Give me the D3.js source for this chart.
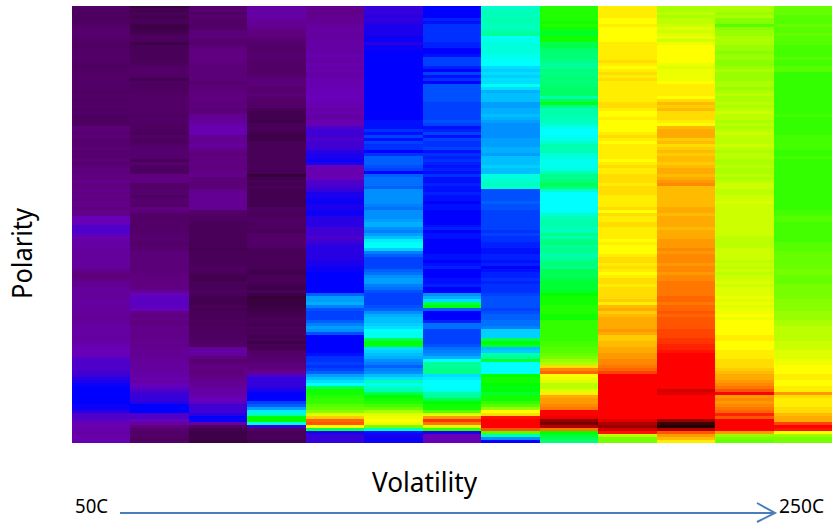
<!DOCTYPE html>
<html>
<head>
<meta charset="utf-8">
<script src="https://cdn.jsdelivr.net/npm/d3@7"></script>
<style>
  html, body { margin: 0; padding: 0; background: #fff; }
  svg { display: block; }
  text { font-family: "Noto Sans", sans-serif; fill: #000; }
</style>
</head>
<body>
<svg id="chart" width="832" height="523"></svg>
<script>
const WIDTH = 832;
const HEIGHT = 523;

// Signal, one list per column, top row first, 10 rows a line
const col01 = [
  7,6,6,6,6,6,7,8,8,8, 7,7,7,6,7,7,7,7,7,6, 6,7,7,7,7,7,7,7,6,7, 7,6,7,7,6,7,6,6,6,6,
  9,9,8,9,8,8,8,9,8,8, 8,9,8,9,10,9,10,10,11,10, 10,11,10,11,10,11,11,10,11,11,
  16,16,16,18,18,18,17,15,14,14, 14,13,13,13,13,13,13,13,11,10, 9,10,12,12,13,13,13,13,13,14,
  13,13,13,13,12,13,13,14,14,14, 13,14,14,15,16,16,16,17,18,18, 18,18,19,19,21,22,23,24,24,24,
  24,24,24,23,23,21,18,18,17,15, 15,15,14,14,15,15
];
const col02 = [
  3,4,5,4,5,5,3,3,4,5, 6,6,3,5,5,5,5,5,5,6, 7,7,7,7,4,6,6,6,6,7, 7,7,7,7,7,7,6,7,7,6,
  6,6,5,7,6,6,7,8,8,8, 8,5,8,6,6,6,10,10,10,7, 7,8,8,6,8,8,7,10,9,7,
  7,7,7,7,7,7,8,8,8,7, 8,8,9,9,9,9,9,9,9,9, 10,10,10,10,10,13,16,17,17,17,
  17,16,11,10,11,10,10,11,11,11, 11,11,12,11,12,12,12,12,13,13, 13,13,14,14,15,14,16,17,18,19,
  20,20,21,24,24,24,18,18,16,14, 10,8,7,7,6,7
];
const col03 = [
  8,8,7,8,7,7,7,7,9,9, 9,8,8,9,10,10,10,10,10,9, 9,9,9,9,9,8,9,9,9,10, 10,10,9,10,9,9,12,12,13,14,
  15,15,15,12,12,12,13,12,10,9, 10,10,10,10,10,11,11,9,9,9, 9,11,12,12,12,12,12,12,7,7,
  6,6,5,5,5,5,5,5,5,5, 5,4,5,5,5,5,5,6,6,5, 4,4,5,5,5,6,5,4,4,4,
  5,4,5,5,5,6,5,6,6,6, 6,6,7,7,13,14,13,10,8,9, 10,10,9,10,11,12,12,13,14,14,
  15,16,17,19,19,19,21,24,23,14, 6,4,3,3,3,2
];
const col04 = [
  14,14,14,14,13,12,12,11,10,10, 9,8,8,7,7,8,8,8,7,7, 7,7,7,8,9,9,9,8,8,9, 8,7,7,7,5,4,4,4,3,5,
  5,5,4,3,3,5,5,5,5,5, 5,5,5,5,5,5,1,4,5,4, 5,4,4,4,4,4,4,6,6,5,
  6,7,6,6,6,5,7,7,7,7, 7,5,5,5,5,5,5,5,4,4, 5,5,5,4,3,5,3,1,2,2,
  2,3,4,4,5,5,4,5,5,5, 4,5,3,5,4,7,7,8,8,9, 9,10,12,18,20,20,20,21,22,24,
  24,24,28,30,34,39,44,55,55,42, 20,7,5,5,5,4
];
const col05 = [
  12,11,11,12,12,12,13,13,14,13, 13,14,14,14,14,14,15,14,14,15, 14,15,14,14,15,15,15,16,16,16, 16,16,15,15,14,15,14,14,15,15,
  18,19,19,19,18,19,19,19,21,22, 22,23,22,16,15,15,15,16,18,18, 19,20,22,22,23,23,22,22,23,23,
  21,21,21,21,19,19,19,18,19,20, 21,21,21,21,21,22,22,23,23,24, 24,24,24,24,24,24,30,34,34,35,
  32,29,28,28,28,30,32,34,33,29, 24,24,24,24,24,24,25,27,27,28, 27,28,30,34,36,38,40,50,56,56,
  57,58,58,60,61,63,68,73,79,80, 70,50,22,20,20,20
];
const col06 = [
  20,20,20,21,20,21,22,22,22,22, 23,23,21,23,23,24,24,24,24,24, 24,24,24,24,24,24,24,24,24,24, 24,24,24,24,24,24,24,24,25,25,
  25,27,25,28,25,28,27,27,24,27, 30,30,30,29,28,24,30,31,31,31, 30,33,33,33,33,33,32,31,33,33,
  33,34,35,35,33,32,34,36,39,41, 40,37,32,30,28,28,28,28,30,31, 33,34,34,32,31,29,28,28,28,28,
  29,30,33,35,36,36,37,38,40,41, 41,50,55,54,38,37,36,35,33,32, 30,32,33,36,38,44,41,43,45,50,
  55,56,57,59,61,65,68,69,70,69, 62,44,25,22,23,23
];
const col07 = [
  24,24,24,24,26,25,27,27,27,27, 27,27,26,26,24,24,25,28,28,28, 26,24,28,25,27,24,29,29,29,29, 29,29,28,28,28,28,28,28,29,28,
  25,26,28,25,28,27,27,28,25,27, 26,27,26,25,26,25,27,25,25,26, 25,25,26,25,25,24,25,25,24,24,
  24,24,24,25,26,24,25,25,24,24, 24,24,24,25,25,24,25,26,24,24, 24,25,25,26,24,24,33,35,38,50,
  55,30,24,24,24,26,31,31,28,28, 28,28,28,29,31,32,33,35,40,46, 46,47,47,38,39,40,40,40,41,45,
  46,50,55,56,56,60,68,76,82,78, 68,58,22,16,16,16
];
const col08 = [
  43,44,44,44,45,44,44,44,45,46, 41,41,42,42,42,42,41,41,40,40, 38,37,38,37,38,38,41,38,35,36, 36,36,34,34,35,35,36,35,34,33,
  33,33,33,33,34,34,34,35,35,34, 36,36,36,37,36,36,42,42,43,44, 43,29,29,29,29,30,29,29,28,28,
  28,28,28,28,28,27,28,27,27,26, 26,25,25,26,26,25,26,24,25,26, 26,27,26,27,27,27,28,29,29,29,
  29,28,29,30,30,31,31,32,37,37, 37,50,55,53,36,37,45,46,52,40, 40,40,40,55,56,56,55,54,55,52,
  56,56,58,60,64,70,72,84,85,85, 85,80,60,45,33,24
];
const col09 = [
  57,57,57,57,57,56,57,56,53,53, 56,56,50,51,49,48,48,48,47,46, 46,48,47,48,48,48,48,49,49,49, 45,50,54,47,45,45,45,44,44,43,
  41,40,40,41,41,43,45,44,45,42, 42,41,41,41,42,44,47,47,48,50, 48,43,40,40,40,40,40,40,40,43,
  44,45,45,45,44,44,47,45,47,48, 46,47,46,45,46,47,48,47,50,50, 50,51,52,52,52,53,55,56,56,56,
  57,57,57,56,56,58,58,58,58,58, 58,58,59,59,60,60,61,62,64,65, 72,77,79,70,69,68,66,66,68,71,
  75,76,76,77,78,85,85,86,92,94, 90,78,55,52,50,48
];
const col10 = [
  71,71,71,71,70,70,71,70,70,70, 70,70,71,71,71,71,71,71,72,71, 70,71,72,71,72,71,71,71,71,71, 71,71,72,72,71,70,70,71,70,70,
  70,70,71,72,71,70,71,71,71,71, 71,70,71,72,71,71,72,72,72,71, 72,72,72,71,71,71,71,72,70,72,
  71,71,72,72,71,71,71,71,70,71, 70,70,70,71,72,72,71,72,71,70, 71,72,72,71,72,72,72,72,73,71,
  74,75,73,74,75,75,75,75,76,75, 73,73,74,74,75,75,76,76,77,77, 78,79,81,85,85,85,85,85,85,85,
  85,85,85,85,85,85,85,85,87,90, 92,88,84,66,62,62
];
const col11 = [
  65,65,66,65,66,66,67,68,67,68, 69,67,69,70,70,70,70,70,70,69, 68,69,69,69,69,70,71,71,71,71, 70,72,74,73,74,72,72,72,71,70,
  74,75,75,75,73,74,72,73,74,73, 74,74,73,74,75,75,74,75,76,77, 74,74,74,74,74,74,74,75,75,74,
  75,75,75,75,74,75,75,75,76,76, 76,77,76,77,77,77,76,77,77,76, 77,77,78,78,78,78,78,79,79,78,
  79,79,80,79,80,80,80,80,81,81, 81,82,82,83,83,84,85,85,85,85, 85,85,85,85,85,85,85,85,88,87,
  85,85,85,85,85,85,85,85,92,98, 100,90,80,76,74,71
];
const col12 = [
  65,65,64,65,63,63,60,63,64,64, 65,65,65,64,64,63,64,64,63,63, 64,65,64,64,64,65,65,64,65,66, 65,65,66,65,66,67,66,66,65,66,
  65,66,67,66,66,66,67,66,65,66, 66,65,65,66,65,65,66,65,66,67, 67,66,66,67,67,68,67,67,67,67,
  67,67,67,67,67,67,67,66,66,66, 66,67,67,67,67,66,67,66,67,66, 67,67,68,67,68,68,68,69,68,69,
  68,69,69,70,69,70,70,70,70,70, 71,71,70,70,70,71,71,71,72,72, 72,73,74,75,75,76,77,78,80,85,
  76,77,76,77,78,79,83,80,85,85, 85,85,76,64,62,61
];
const col13 = [
  61,61,61,60,60,60,61,60,60,61, 60,60,60,59,59,59,59,60,59,59, 60,60,58,58,58,58,58,58,58,58, 58,58,58,58,58,58,59,58,58,58,
  58,58,58,59,59,59,59,59,58,58, 59,58,58,58,58,58,58,58,58,58, 58,58,58,58,58,58,58,58,59,59,
  60,60,59,59,59,59,59,59,59,60, 60,60,61,61,61,61,61,61,62,62, 61,61,61,62,62,62,62,62,63,63,
  63,63,64,64,64,65,65,66,66,66, 66,66,67,67,67,68,68,68,69,69, 70,70,70,71,71,70,70,71,71,76,
  72,71,71,71,72,72,74,75,75,81, 85,84,70,64,62,62
];

const columns = [col01, col02, col03, col04, col05, col06, col07, col08, col09, col10, col11, col12, col13];

const xTitle = "Volatility";
const yTitle = "Polarity";
const rangeLabels = ["50C", "250C"];

// Colour ramp stops, low signal to high signal
const rampDomain = [0, 10, 16, 24, 40, 55, 70, 85, 100];
const rampColors = ["#300030", "#600080", "#6800b8", "#0000ff", "#00ffff", "#00ff00", "#ffff00", "#ff0000", "#200000"];

const svg = d3.select("#chart");

const xScale = d3.scaleBand().domain(d3.range(columns.length)).range([72, 832]);
const yScale = d3.scaleBand().domain(d3.range(col01.length)).range([6, 443]);
const colorScale = d3.scaleLinear().domain(rampDomain).range(rampColors).interpolate(d3.interpolateRgb);

// Draw one rect per cell, column by column
svg
  .append("g")
  .attr("shape-rendering", "crispEdges")
  .selectAll("g")
  .data(columns)
  .enter()
  .append("g")
  .attr("transform", (column, index) => `translate(${xScale(index)}, 0)`)
  .selectAll("rect")
  .data((column) => column)
  .enter()
  .append("rect")
  .attr("width", xScale.bandwidth())
  .attr("height", yScale.bandwidth())
  .attr("y", (value, row) => yScale(row))
  .attr("fill", (value) => colorScale(value));

// The fonts here are wider than the original's, so squeeze the labels to its widths
svg
  .append("text")
  .text(yTitle)
  .attr("transform", "translate(32, 253.5) rotate(-90)")
  .attr("text-anchor", "middle")
  .attr("textLength", 91)
  .attr("lengthAdjust", "spacingAndGlyphs")
  .style("font-size", "27px");

svg
  .append("text")
  .text(xTitle)
  .attr("x", 424.5)
  .attr("y", 492)
  .attr("text-anchor", "middle")
  .attr("textLength", 105)
  .attr("lengthAdjust", "spacingAndGlyphs")
  .style("font-size", "27px");

svg
  .append("text")
  .text(rangeLabels[0])
  .attr("x", 75)
  .attr("y", 513)
  .attr("textLength", 33)
  .attr("lengthAdjust", "spacingAndGlyphs")
  .style("font-size", "20px");

svg
  .append("text")
  .text(rangeLabels[1])
  .attr("x", 779)
  .attr("y", 513)
  .attr("textLength", 45)
  .attr("lengthAdjust", "spacingAndGlyphs")
  .style("font-size", "20px");

// Temperature arrow under the chart
svg
  .append("line")
  .attr("x1", 120)
  .attr("x2", 775)
  .attr("y1", 513)
  .attr("y2", 513)
  .attr("stroke", "#4a7ebb")
  .attr("stroke-width", 2);

svg
  .append("path")
  .attr("d", "M757,503L775,513L757,522")
  .attr("fill", "none")
  .attr("stroke", "#4a7ebb")
  .attr("stroke-width", 2);
</script>
</body>
</html>
